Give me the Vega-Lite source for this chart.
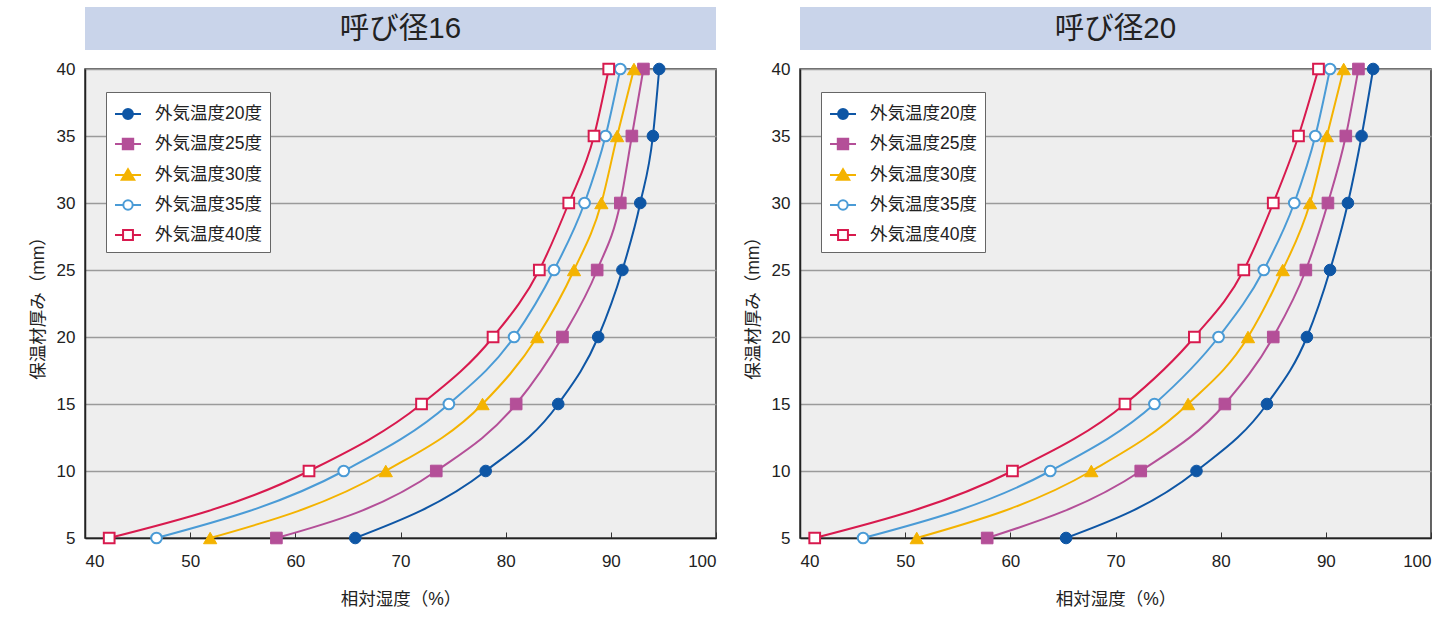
{
  "$schema": "https://vega.github.io/schema/vega-lite/v6.json",
  "padding": {"left": 28, "top": 7, "right": 5, "bottom": 5},
  "background": "white",
  "bounds": "flush",
  "columns": 2,
  "spacing": {"row": 19, "column": 84},
  "resolve": {
    "scale": {"color": "independent", "fill": "independent", "shape": "independent", "stroke": "independent"},
    "legend": {"color": "independent", "fill": "independent", "shape": "independent", "stroke": "independent"}
  },
  "datasets": {
    "d16": [
      {"s":"外気温度20度","h":5,"rh":65.7},{"s":"外気温度20度","h":10,"rh":78.1},{"s":"外気温度20度","h":15,"rh":85.0},{"s":"外気温度20度","h":20,"rh":88.8},{"s":"外気温度20度","h":25,"rh":91.1},{"s":"外気温度20度","h":30,"rh":92.8},{"s":"外気温度20度","h":35,"rh":94.0},{"s":"外気温度20度","h":40,"rh":94.6},
      {"s":"外気温度25度","h":5,"rh":58.2},{"s":"外気温度25度","h":10,"rh":73.4},{"s":"外気温度25度","h":15,"rh":81.0},{"s":"外気温度25度","h":20,"rh":85.4},{"s":"外気温度25度","h":25,"rh":88.7},{"s":"外気温度25度","h":30,"rh":90.9},{"s":"外気温度25度","h":35,"rh":92.0},{"s":"外気温度25度","h":40,"rh":93.1},
      {"s":"外気温度30度","h":5,"rh":51.9},{"s":"外気温度30度","h":10,"rh":68.6},{"s":"外気温度30度","h":15,"rh":77.8},{"s":"外気温度30度","h":20,"rh":83.0},{"s":"外気温度30度","h":25,"rh":86.5},{"s":"外気温度30度","h":30,"rh":89.1},{"s":"外気温度30度","h":35,"rh":90.6},{"s":"外気温度30度","h":40,"rh":92.2},
      {"s":"外気温度35度","h":5,"rh":46.8},{"s":"外気温度35度","h":10,"rh":64.6},{"s":"外気温度35度","h":15,"rh":74.6},{"s":"外気温度35度","h":20,"rh":80.8},{"s":"外気温度35度","h":25,"rh":84.6},{"s":"外気温度35度","h":30,"rh":87.5},{"s":"外気温度35度","h":35,"rh":89.5},{"s":"外気温度35度","h":40,"rh":90.9},
      {"s":"外気温度40度","h":5,"rh":42.3},{"s":"外気温度40度","h":10,"rh":61.3},{"s":"外気温度40度","h":15,"rh":72.0},{"s":"外気温度40度","h":20,"rh":78.8},{"s":"外気温度40度","h":25,"rh":83.2},{"s":"外気温度40度","h":30,"rh":86.0},{"s":"外気温度40度","h":35,"rh":88.4},{"s":"外気温度40度","h":40,"rh":89.8}
    ],
    "d20": [
      {"s":"外気温度20度","h":5,"rh":65.3},{"s":"外気温度20度","h":10,"rh":77.7},{"s":"外気温度20度","h":15,"rh":84.4},{"s":"外気温度20度","h":20,"rh":88.2},{"s":"外気温度20度","h":25,"rh":90.4},{"s":"外気温度20度","h":30,"rh":92.1},{"s":"外気温度20度","h":35,"rh":93.4},{"s":"外気温度20度","h":40,"rh":94.5},
      {"s":"外気温度25度","h":5,"rh":57.8},{"s":"外気温度25度","h":10,"rh":72.4},{"s":"外気温度25度","h":15,"rh":80.4},{"s":"外気温度25度","h":20,"rh":85.0},{"s":"外気温度25度","h":25,"rh":88.1},{"s":"外気温度25度","h":30,"rh":90.2},{"s":"外気温度25度","h":35,"rh":91.9},{"s":"外気温度25度","h":40,"rh":93.1},
      {"s":"外気温度30度","h":5,"rh":51.1},{"s":"外気温度30度","h":10,"rh":67.7},{"s":"外気温度30度","h":15,"rh":76.9},{"s":"外気温度30度","h":20,"rh":82.6},{"s":"外気温度30度","h":25,"rh":85.9},{"s":"外気温度30度","h":30,"rh":88.5},{"s":"外気温度30度","h":35,"rh":90.1},{"s":"外気温度30度","h":40,"rh":91.7},
      {"s":"外気温度35度","h":5,"rh":46.0},{"s":"外気温度35度","h":10,"rh":63.8},{"s":"外気温度35度","h":15,"rh":73.7},{"s":"外気温度35度","h":20,"rh":79.8},{"s":"外気温度35度","h":25,"rh":84.1},{"s":"外気温度35度","h":30,"rh":87.0},{"s":"外気温度35度","h":35,"rh":89.0},{"s":"外気温度35度","h":40,"rh":90.4},
      {"s":"外気温度40度","h":5,"rh":41.4},{"s":"外気温度40度","h":10,"rh":60.2},{"s":"外気温度40度","h":15,"rh":70.9},{"s":"外気温度40度","h":20,"rh":77.5},{"s":"外気温度40度","h":25,"rh":82.2},{"s":"外気温度40度","h":30,"rh":85.0},{"s":"外気温度40度","h":35,"rh":87.4},{"s":"外気温度40度","h":40,"rh":89.3}
    ]
  },
  "concat": [
    {
      "width": 631, "height": 43,
      "view": {"fill": "#c9d4ea", "stroke": null},
      "data": {"values": [{"t": "呼び径16"}]},
      "mark": {"type": "text", "fontSize": 29.5, "color": "#222222"},
      "encoding": {"text": {"field": "t", "type": "nominal"}}
    },
    {
      "width": 631, "height": 43,
      "view": {"fill": "#c9d4ea", "stroke": null},
      "data": {"values": [{"t": "呼び径20"}]},
      "mark": {"type": "text", "fontSize": 29.5, "color": "#222222"},
      "encoding": {"text": {"field": "t", "type": "nominal"}}
    },
    {
      "width": 631, "height": 469,
      "view": {"fill": "#eeeeee", "stroke": "#333333", "strokeWidth": 1.5},
      "data": {"name": "d16"},
      "encoding": {
        "x": {"field": "rh", "type": "quantitative", "scale": {"domain": [40, 100], "nice": false, "zero": false},
              "axis": {"title": "相対湿度（%）", "values": [40,50,60,70,80,90,100], "grid": false, "tickSize": -6, "labelPadding": 21, "titlePadding": 21}},
        "y": {"field": "h", "type": "quantitative", "scale": {"domain": [5, 40], "nice": false, "zero": false},
              "axis": {"title": "保温材厚み（mm）", "values": [5,10,15,20,25,30,35,40], "grid": true, "ticks": false, "labelPadding": 10, "titlePadding": 9}}
      },
      "layer": [
        {"mark": {"type": "line", "interpolate": "monotone", "strokeWidth": 2},
         "encoding": {"stroke": {"field": "s", "type": "nominal", "legend": null,
                                "scale": {"domain": ["外気温度40度","外気温度35度","外気温度30度","外気温度25度","外気温度20度"], "range": ["#d81a4e","#4a9bd6","#f4b300","#b44f98","#0e56a5"]}},
                      "order": {"field": "h", "type": "quantitative"}}},
        {"transform": [{"filter": {"field": "s", "equal": "外気温度20度"}}], "mark": {"type": "point", "shape": "circle", "filled": true, "fill": "#0e56a5", "stroke": "#0e56a5", "strokeWidth": 1, "opacity": 1, "size": 135}},
        {"transform": [{"filter": {"field": "s", "equal": "外気温度25度"}}], "mark": {"type": "point", "shape": "square", "filled": true, "fill": "#b44f98", "stroke": "#b44f98", "strokeWidth": 1, "opacity": 1, "size": 135}},
        {"transform": [{"filter": {"field": "s", "equal": "外気温度30度"}}], "mark": {"type": "point", "shape": "triangle-up", "filled": true, "fill": "#f4b300", "stroke": "#f4b300", "strokeWidth": 1, "opacity": 1, "size": 175}},
        {"transform": [{"filter": {"field": "s", "equal": "外気温度35度"}}], "mark": {"type": "point", "shape": "circle", "filled": false, "fill": "#ffffff", "stroke": "#4a9bd6", "strokeWidth": 2, "opacity": 1, "fillOpacity": 1, "size": 115}},
        {"transform": [{"filter": {"field": "s", "equal": "外気温度40度"}}], "mark": {"type": "point", "shape": "square", "filled": false, "fill": "#ffffff", "stroke": "#d81a4e", "strokeWidth": 2, "opacity": 1, "fillOpacity": 1, "size": 115}},
        {"mark": {"type": "point", "opacity": 0, "size": 676, "strokeWidth": 2},
         "encoding": {
           "color": {"field": "s", "type": "nominal",
                     "scale": {"domain": ["外気温度20度","外気温度25度","外気温度30度","外気温度35度","外気温度40度"], "range": ["#0e56a5","#b44f98","#f4b300","#4a9bd6","#d81a4e"]},
                     "legend": {"title": null, "orient": "none", "legendX": 21, "legendY": 23}},
           "fill": {"field": "s", "type": "nominal",
                    "scale": {"domain": ["外気温度20度","外気温度25度","外気温度30度","外気温度35度","外気温度40度"], "range": ["#0e56a5","#b44f98","#f4b300","#ffffff","#ffffff"]},
                    "legend": {"title": null, "orient": "none", "legendX": 21, "legendY": 23}},
           "shape": {"field": "s", "type": "nominal",
                     "scale": {"domain": ["外気温度20度","外気温度25度","外気温度30度","外気温度35度","外気温度40度"],
                               "range": ["M-1,0H1M0.38,0A0.38,0.38,0,1,1,-0.38,0A0.38,0.38,0,1,1,0.38,0Z",
                                         "M-1,0H1M-0.4,-0.4H0.4V0.4H-0.4Z",
                                         "M-1,0H1M0,-0.44L0.48,0.36L-0.48,0.36Z",
                                         "M-1,0H-0.36M0.36,0H1M0.36,0A0.36,0.36,0,1,1,-0.36,0A0.36,0.36,0,1,1,0.36,0Z",
                                         "M-1,0H-0.38M0.38,0H1M-0.38,-0.38H0.38V0.38H-0.38Z"]},
                     "legend": {"title": null, "orient": "none", "legendX": 21, "legendY": 23}}
         }}
      ]
    },
    {
      "width": 631, "height": 469,
      "view": {"fill": "#eeeeee", "stroke": "#333333", "strokeWidth": 1.5},
      "data": {"name": "d20"},
      "encoding": {
        "x": {"field": "rh", "type": "quantitative", "scale": {"domain": [40, 100], "nice": false, "zero": false},
              "axis": {"title": "相対湿度（%）", "values": [40,50,60,70,80,90,100], "grid": false, "tickSize": -6, "labelPadding": 21, "titlePadding": 21}},
        "y": {"field": "h", "type": "quantitative", "scale": {"domain": [5, 40], "nice": false, "zero": false},
              "axis": {"title": "保温材厚み（mm）", "values": [5,10,15,20,25,30,35,40], "grid": true, "ticks": false, "labelPadding": 10, "titlePadding": 9}}
      },
      "layer": [
        {"mark": {"type": "line", "interpolate": "monotone", "strokeWidth": 2},
         "encoding": {"stroke": {"field": "s", "type": "nominal", "legend": null,
                                "scale": {"domain": ["外気温度40度","外気温度35度","外気温度30度","外気温度25度","外気温度20度"], "range": ["#d81a4e","#4a9bd6","#f4b300","#b44f98","#0e56a5"]}},
                      "order": {"field": "h", "type": "quantitative"}}},
        {"transform": [{"filter": {"field": "s", "equal": "外気温度20度"}}], "mark": {"type": "point", "shape": "circle", "filled": true, "fill": "#0e56a5", "stroke": "#0e56a5", "strokeWidth": 1, "opacity": 1, "size": 135}},
        {"transform": [{"filter": {"field": "s", "equal": "外気温度25度"}}], "mark": {"type": "point", "shape": "square", "filled": true, "fill": "#b44f98", "stroke": "#b44f98", "strokeWidth": 1, "opacity": 1, "size": 135}},
        {"transform": [{"filter": {"field": "s", "equal": "外気温度30度"}}], "mark": {"type": "point", "shape": "triangle-up", "filled": true, "fill": "#f4b300", "stroke": "#f4b300", "strokeWidth": 1, "opacity": 1, "size": 175}},
        {"transform": [{"filter": {"field": "s", "equal": "外気温度35度"}}], "mark": {"type": "point", "shape": "circle", "filled": false, "fill": "#ffffff", "stroke": "#4a9bd6", "strokeWidth": 2, "opacity": 1, "fillOpacity": 1, "size": 115}},
        {"transform": [{"filter": {"field": "s", "equal": "外気温度40度"}}], "mark": {"type": "point", "shape": "square", "filled": false, "fill": "#ffffff", "stroke": "#d81a4e", "strokeWidth": 2, "opacity": 1, "fillOpacity": 1, "size": 115}},
        {"mark": {"type": "point", "opacity": 0, "size": 676, "strokeWidth": 2},
         "encoding": {
           "color": {"field": "s", "type": "nominal",
                     "scale": {"domain": ["外気温度20度","外気温度25度","外気温度30度","外気温度35度","外気温度40度"], "range": ["#0e56a5","#b44f98","#f4b300","#4a9bd6","#d81a4e"]},
                     "legend": {"title": null, "orient": "none", "legendX": 21, "legendY": 23}},
           "fill": {"field": "s", "type": "nominal",
                    "scale": {"domain": ["外気温度20度","外気温度25度","外気温度30度","外気温度35度","外気温度40度"], "range": ["#0e56a5","#b44f98","#f4b300","#ffffff","#ffffff"]},
                    "legend": {"title": null, "orient": "none", "legendX": 21, "legendY": 23}},
           "shape": {"field": "s", "type": "nominal",
                     "scale": {"domain": ["外気温度20度","外気温度25度","外気温度30度","外気温度35度","外気温度40度"],
                               "range": ["M-1,0H1M0.38,0A0.38,0.38,0,1,1,-0.38,0A0.38,0.38,0,1,1,0.38,0Z",
                                         "M-1,0H1M-0.4,-0.4H0.4V0.4H-0.4Z",
                                         "M-1,0H1M0,-0.44L0.48,0.36L-0.48,0.36Z",
                                         "M-1,0H-0.36M0.36,0H1M0.36,0A0.36,0.36,0,1,1,-0.36,0A0.36,0.36,0,1,1,0.36,0Z",
                                         "M-1,0H-0.38M0.38,0H1M-0.38,-0.38H0.38V0.38H-0.38Z"]},
                     "legend": {"title": null, "orient": "none", "legendX": 21, "legendY": 23}}
         }}
      ]
    }
  ],
  "config": {
    "font": "Liberation Sans, Noto Sans CJK JP",
    "axis": {
      "labelFont": "Liberation Sans, Noto Sans CJK JP",
      "titleFont": "Liberation Sans, Noto Sans CJK JP",
      "labelFontSize": 17, "labelColor": "#222222",
      "titleFontSize": 17.5, "titleFontWeight": "normal", "titleColor": "#222222",
      "domainColor": "#222222", "domainWidth": 1.5,
      "tickColor": "#333333", "tickWidth": 1,
      "gridColor": "#9a9a9a", "gridWidth": 1.5, "gridOpacity": 1
    },
    "legend": {
      "labelFont": "Liberation Sans, Noto Sans CJK JP",
      "labelFontSize": 17.5, "labelColor": "#222222", "labelLimit": 300,
      "fillColor": "#ffffff", "strokeColor": "#666666", "padding": 8,
      "rowPadding": 7, "labelOffset": 13,
      "symbolSize": 676, "symbolStrokeWidth": 2, "symbolOpacity": 1
    }
  }
}
